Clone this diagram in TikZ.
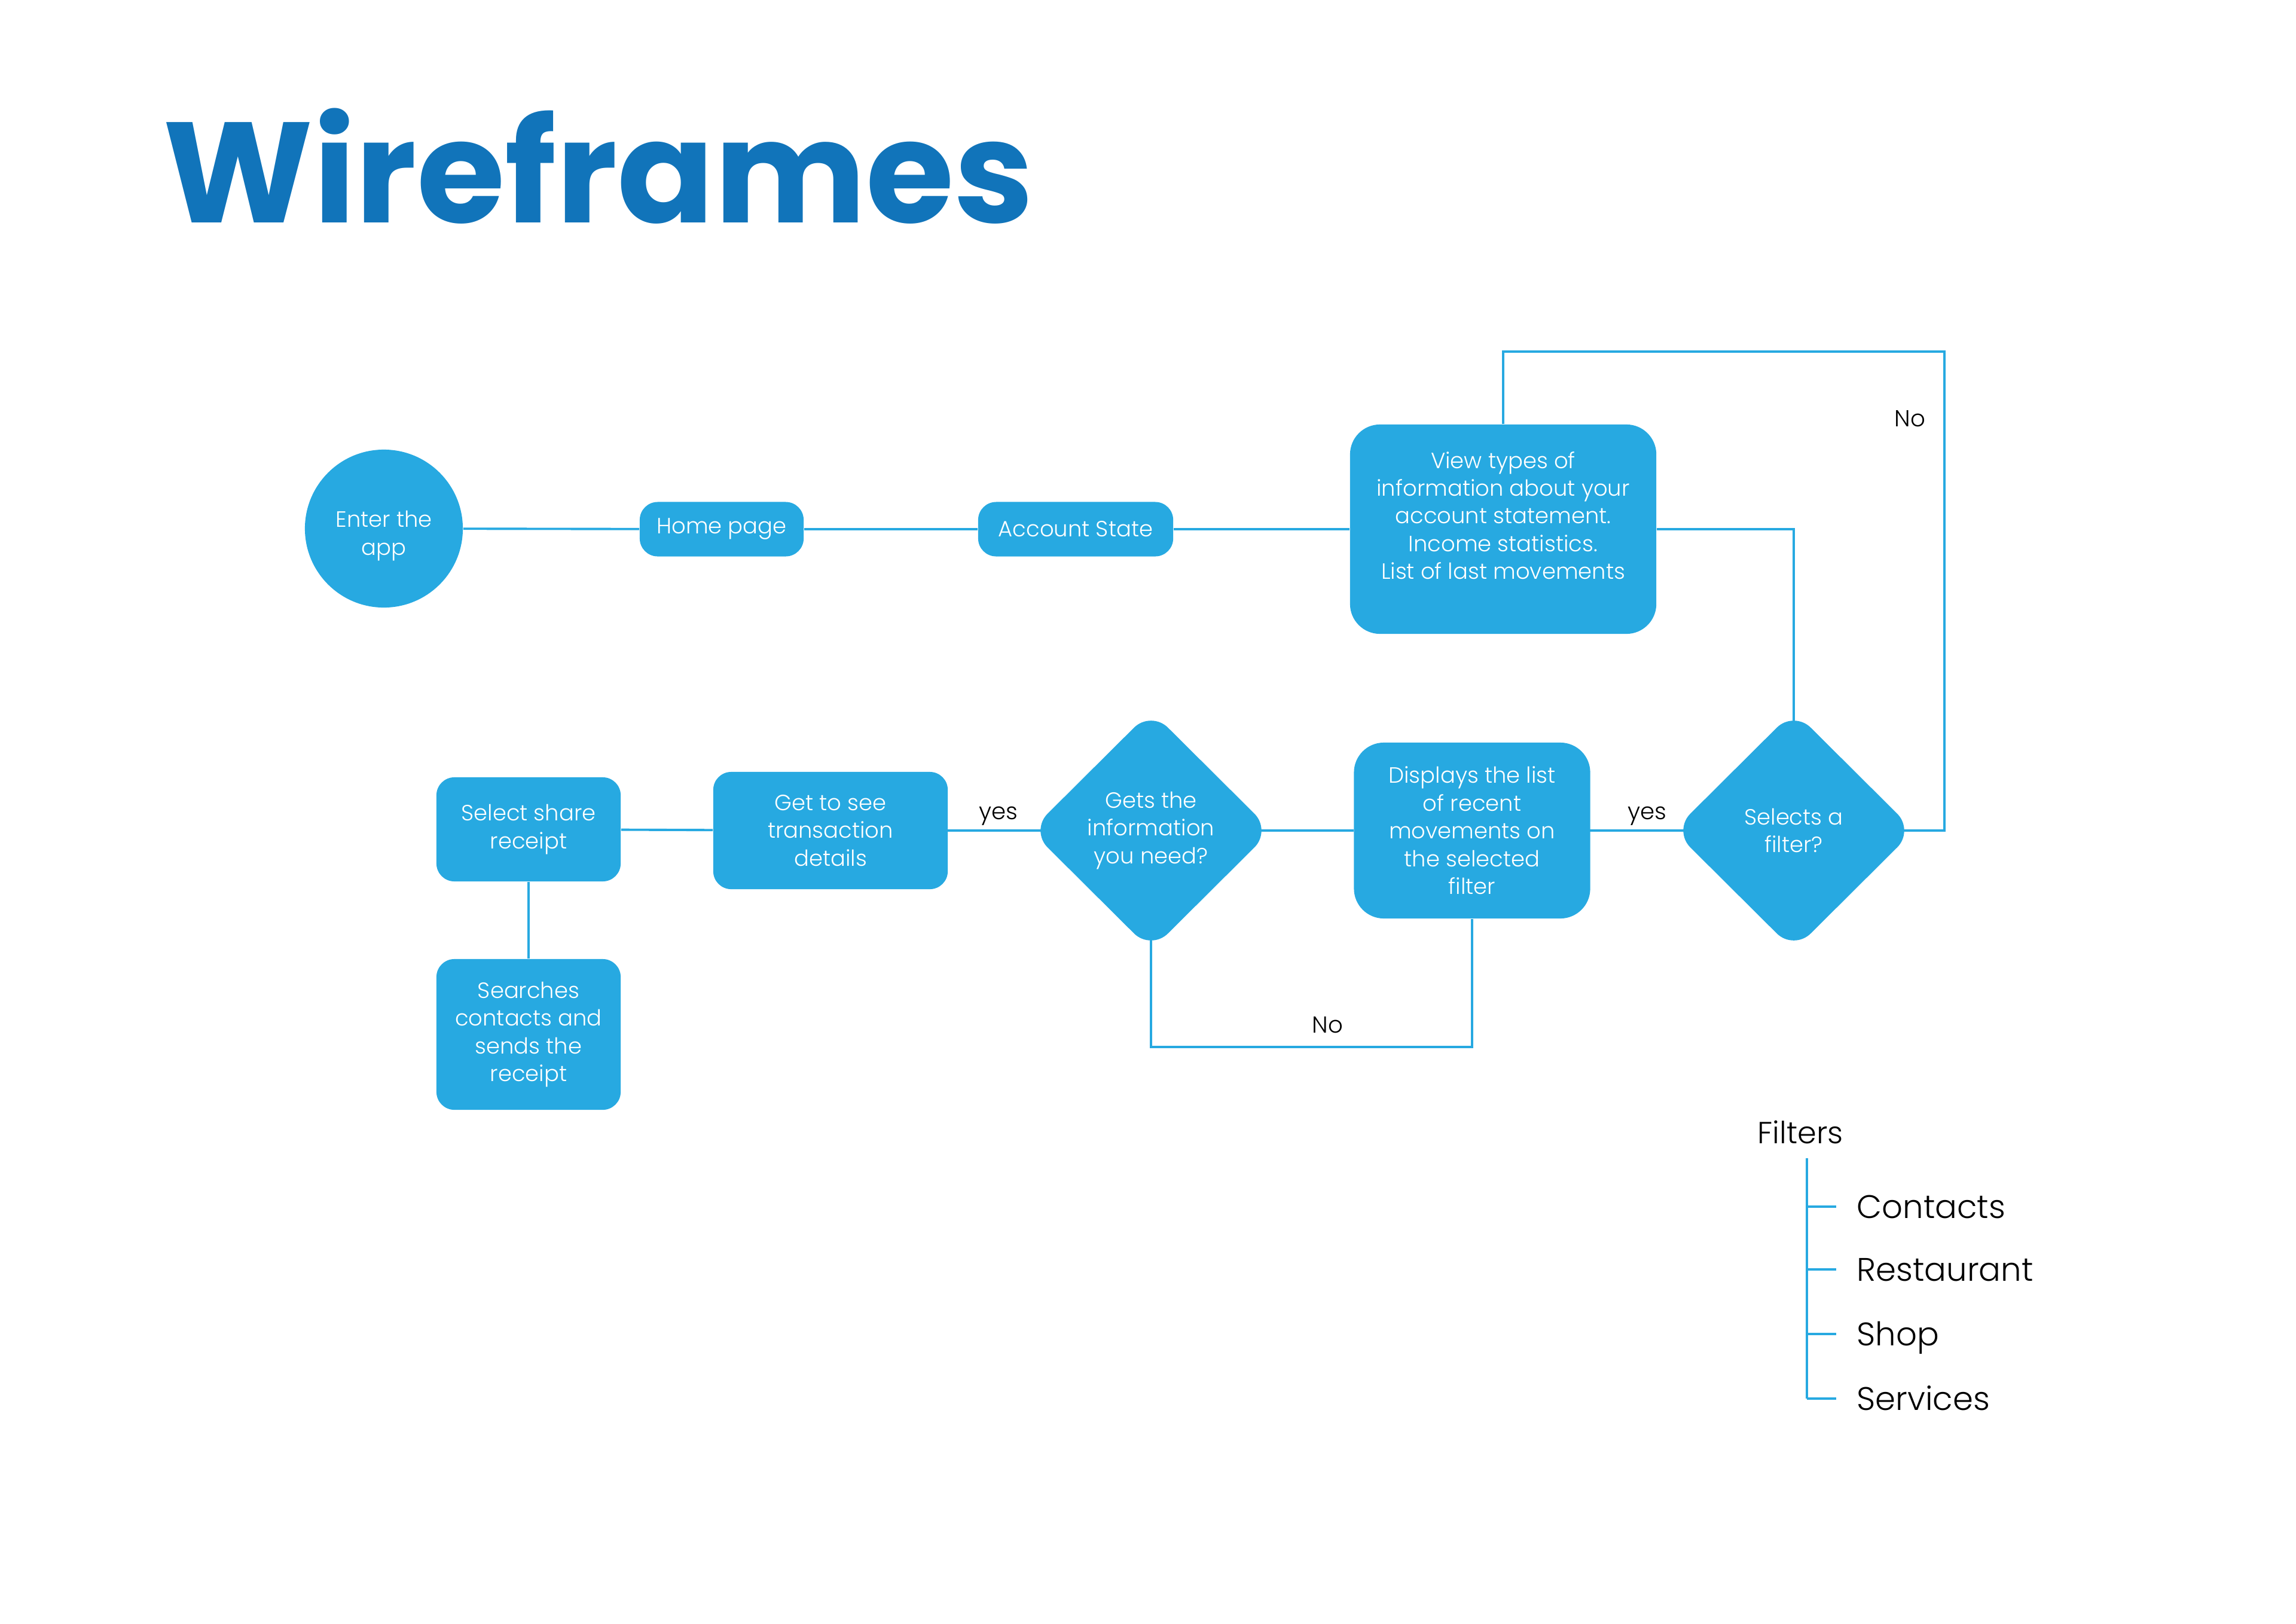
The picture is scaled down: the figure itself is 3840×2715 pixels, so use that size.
\documentclass[tikz,border=0pt]{standalone}
\usepackage{fontspec}
\setmainfont{Poppins Light}[BoldFont=Poppins Bold]
\usetikzlibrary{shapes.geometric,backgrounds}
\definecolor{boxblue}{HTML}{27A9E1}
\definecolor{headblue}{HTML}{1174BA}
\begin{document}
\begin{tikzpicture}[x=0.01cm, y=-0.01cm,
  box/.style={fill=boxblue, text=white, rounded corners=0.3cm, align=center, inner sep=0pt, font=\fontsize{10.5}{13.2}\selectfont},
  bigbox/.style={box, rounded corners=0.5cm},
  ask/.style={diamond, aspect=1, fill=boxblue, text=white, rounded corners=0.4cm, align=center, inner sep=0pt, minimum width=4.03cm, minimum height=4.01cm, font=\fontsize{10.5}{13.2}\selectfont},
  start/.style={circle, fill=boxblue, inner sep=0pt, minimum size=2.64cm},
  inside/.style={text=white, align=center, inner sep=0pt, font=\fontsize{10.5}{13.2}\selectfont},
  lbl/.style={text=black, inner sep=2pt, font=\fontsize{11}{13}\selectfont},
  flt/.style={anchor=west, inner sep=0pt, text height=10.9pt, text depth=0pt, font=\fontsize{15.5}{18}\selectfont},
  line/.style={draw=boxblue, line width=1.1pt}]
  \useasboundingbox (0,0) rectangle (3840,2715);
  % title
  \node [anchor=base west, inner sep=0pt, text=headblue, font=\fontsize{68}{68}\selectfont\bfseries] (title) at (272,372) {Wireframes};
  % top row
  \node [start, label={[inside, yshift=-3.4pt]center:Enter the\\app}] (enter) at (642,884) {};
  \node [box, minimum width=2.74cm, minimum height=0.91cm] (home) at (1207,885) {Home page};
  \node [box, minimum width=3.26cm, minimum height=0.91cm] (account) at (1799,885) {Account State};
  \node [bigbox, minimum width=5.12cm, minimum height=3.5cm, label={[inside, yshift=6.5pt]center:View types of\\information about your\\account statement.\\Income statistics.\\List of last movements}] (view) at (2514,885) {};
  % bottom row
  \node [ask] (filter) at (3000,1389) {Selects a\\filter?};
  \node [bigbox, minimum width=3.95cm, minimum height=2.94cm] (list) at (2462,1389) {Displays the list\\of recent\\movements on\\the selected\\filter};
  \node [ask] (need) at (1925,1389) {Gets the\\information\\you need?};
  \node [box, minimum width=3.92cm, minimum height=1.96cm] (details) at (1389,1389) {Get to see\\transaction\\details};
  \node [box, minimum width=3.08cm, minimum height=1.74cm] (share) at (884,1387) {Select share\\receipt};
  \node [box, minimum width=3.08cm, minimum height=2.52cm] (send) at (884,1730) {Searches\\contacts and\\sends the\\receipt};
  \coordinate (loop) at (3252,588);
  % connectors
  \begin{scope}[on background layer]
  \draw [line] (enter) -- (home);
  \draw [line] (home) -- (account);
  \draw [line] (account) -- (view);
  \draw [line] (view.east) -| (filter.center);
  \draw [line] (view.north) |- (loop) |- node [lbl, pos=0.07, left=6.5pt] {No} (filter.center);
  \draw [line] (list.center) -- node [lbl, pos=0.545, above] {yes} (filter.center);
  \draw [line] (list) -- (need.center);
  \draw [line] (need.center) -- ++(0,362) -| node [lbl, pos=0.275, above=4pt] {No} (list.south);
  \draw [line] (details.center) -- node [lbl, pos=0.524, above] {yes} (need.center);
  \draw [line] (details) -- (share);
  \draw [line] (share) -- (send);
  \end{scope}
  % filters
  \node [flt, font=\fontsize{14.5}{17}\selectfont] (filters) at (2939,1893) {Filters};
  \node [flt] (fc) at (3105,2018) {Contacts};
  \node [flt] (fr) at (3105,2123) {Restaurant};
  \node [flt] (fp) at (3105,2231) {Shop};
  \node [flt] (fs) at (3105,2339) {Services};
  \coordinate (tree) at (3022,1937);
  \draw [line] (tree) -- (tree |- fs.west);
  \draw [line] (tree |- fc.west) -- ++(49,0);
  \draw [line] (tree |- fr.west) -- ++(49,0);
  \draw [line] (tree |- fp.west) -- ++(49,0);
  \draw [line] (tree |- fs.west) -- ++(49,0);
\end{tikzpicture}
\end{document}
